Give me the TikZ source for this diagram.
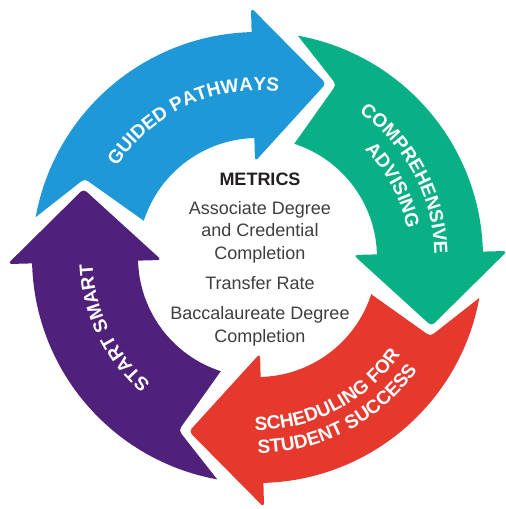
\documentclass[tikz,border=0pt]{standalone}
\usepackage{fontspec}
\setmainfont{Liberation Sans}
\usetikzlibrary{calc,decorations.text}
\definecolor{cblue}{RGB}{30,152,214}
\definecolor{cgreen}{RGB}{9,176,134}
\definecolor{cred}{RGB}{229,57,46}
\definecolor{cpurple}{RGB}{80,33,122}
\definecolor{ctext}{RGB}{62,62,62}
\definecolor{ctitle}{RGB}{35,31,32}
\newcommand\lblfont{\bfseries\fontsize{19}{19}\selectfont}
\newcommand\Ro{225.5}
\newcommand\Ri{119.5}
% #1 colour, #2 base angle of previous arrow (tail), #3 own base angle (head)
\newcommand\cyclearrow[3]{%
  \fill[#1] ({#2-11.8}:\Ro) arc[start angle={#2-11.8}, end angle={#3-1}, radius=\Ro]
    -- ({#3-1}:\Ri) arc[start angle={#3-1}, end angle={#2-19.4}, radius=\Ri]
    -- ($({#2-19.4}:\Ri)!0.88!({#2-26}:190)$)
    .. controls ({#2-26}:190) .. ($({#2-11.8}:\Ro)!0.86!({#2-26}:190)$)
    -- cycle;
  \fill[#1, rounded corners=4pt] (#3:250) -- ({#3-23}:187) -- (#3:96) -- cycle;
}
\tikzset{
  mtext/.style={font=\fontsize{18}{18}\selectfont, text=ctext, inner sep=0pt, anchor=base},
  mtitle/.style={font=\bfseries\fontsize{18}{18}\selectfont, text=ctitle, inner sep=0pt, anchor=base},
  arclabel/.style={decorate, decoration={text along path, text align=center, text color=white, text={|\lblfont|#1}}}
}
\begin{document}
\begin{tikzpicture}[x=1pt,y=1pt]
\useasboundingbox (0,0) rectangle (506,509);
\begin{scope}[shift={(257.5,251.5)}]
  \cyclearrow{cblue}{181.5}{91.5}
  \cyclearrow{cgreen}{91.5}{1.5}
  \cyclearrow{cred}{1.5}{-88.5}
  \cyclearrow{cpurple}{-88.5}{-178.5}
  % curved labels
  \path[arclabel={GUIDED PATHWAYS}] (160:167) arc[start angle=160, end angle=70, radius=167];
  \path[arclabel={COMPREHENSIVE}] (73:177) arc[start angle=73, end angle=-17, radius=177];
  \path[arclabel={ADVISING}] (73:152) arc[start angle=73, end angle=-17, radius=152];
  \path[arclabel={SCHEDULING FOR}] (252.5:172.5) arc[start angle=252.5, end angle=342.5, radius=172.5];
  \path[arclabel={STUDENT SUCCESS}] (252.5:195.5) arc[start angle=252.5, end angle=342.5, radius=195.5];
  \path[arclabel={START SMART}] (251:165) arc[start angle=251, end angle=161, radius=165];
\end{scope}
\node[mtitle] (metrics) at (260,323) {METRICS};
\node[mtext] (m1) at (260,294) {Associate Degree};
\node[mtext] (m2) at (260,272.3) {and Credential};
\node[mtext] (m3) at (260,249) {Completion};
\node[mtext] (m4) at (260,219) {Transfer Rate};
\node[mtext] (m5) at (260,189) {Baccalaureate Degree};
\node[mtext] (m6) at (260,166.3) {Completion};
\end{tikzpicture}
\end{document}
